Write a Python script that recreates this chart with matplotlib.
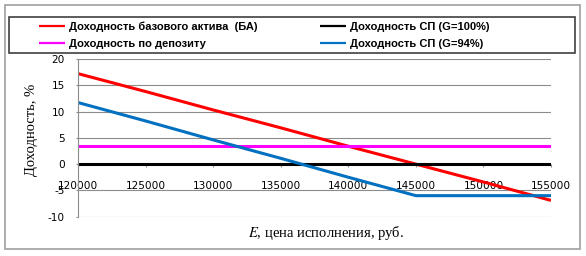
import matplotlib
matplotlib.use("Agg")
import matplotlib.pyplot as plt
from matplotlib.patches import Rectangle

# Цена исполнения E, руб.
strike = [120000, 125000, 130000, 135000, 140000, 145000, 150000, 155000]

# Доходности, %
ba_yield = [17.2, 13.8, 10.3, 6.9, 3.4, 0.0, -3.4, -6.9]
sp100_yield = [0, 0, 0, 0, 0, 0, 0, 0]
deposit_yield = [3.5, 3.5, 3.5, 3.5, 3.5, 3.5, 3.5, 3.5]
sp94_yield = [11.7, 8.2, 4.6, 1.1, -2.5, -6.0, -6.0, -6.0]

labels = ["Доходность базового актива  (БА)", "Доходность СП (G=100%)",
          "Доходность по депозиту", "Доходность СП (G=94%)"]
yticks = [-10, -5, 0, 5, 10, 15, 20]
xticks = [120000, 125000, 130000, 135000, 140000, 145000, 150000, 155000]

plt.rcParams["mathtext.fontset"] = "stix"
plt.rcParams["axes.unicode_minus"] = False

fig = plt.figure(figsize=(5.86, 2.56), dpi=100)
ax = fig.add_axes([78.3 / 586, 1 - 216.7 / 256, 472.7 / 586, 157.7 / 256])

grid_col = "#8c8c8c"

# линии
l_ba, = ax.plot(strike, ba_yield, color="#ff0000", lw=2.2, solid_capstyle="butt")
l_100, = ax.plot(strike, sp100_yield, color="#000000", lw=2.2, solid_capstyle="butt")
l_dep, = ax.plot(strike, deposit_yield, color="#ff00ff", lw=2.2, solid_capstyle="butt")
l_94, = ax.plot(strike, sp94_yield, color="#0070c0", lw=2.2, solid_capstyle="butt")

ax.set_xlim(120000, 155000)
ax.set_ylim(-10, 20)
ax.set_yticks(yticks)
ax.set_xticks(xticks)
ax.set_xticklabels([str(v) for v in xticks])

# сетка только горизонтальная
for v in yticks:
    ax.axhline(v, color=grid_col, lw=0.8, zorder=0)

# ось X пересекает Y в нуле
ax.spines["bottom"].set_position(("data", 0))
ax.spines["bottom"].set_visible(False)
ax.spines["top"].set_visible(False)
ax.spines["right"].set_visible(False)
ax.spines["left"].set_color(grid_col)
ax.spines["left"].set_linewidth(0.8)

ax.tick_params(axis="x", direction="out", length=2.5, width=0.8, color=grid_col,
               pad=9.5, labelsize=7.6)
ax.tick_params(axis="y", direction="out", length=1.5, width=0.8, color=grid_col,
               pad=8, labelsize=7.6)

ax.set_ylabel("Доходность, %", family="Liberation Serif", fontsize=10.5)
ax.yaxis.set_label_coords(-0.098, 0.553)
ax.set_xlabel(r"$E$, цена исполнения, руб.", family="Liberation Serif", fontsize=10.5)
ax.xaxis.set_label_coords(0.524, -0.103)
ax.xaxis.label.set_va("center")
ax.yaxis.label.set_va("center")

# легенда сверху (рамка отдельно)
leg = fig.legend([l_ba, l_dep, l_100, l_94], [labels[0], labels[2], labels[1], labels[3]],
                 ncol=2, loc="upper left",
                 bbox_to_anchor=(39 / 586, 1 - 21.5 / 256),
                 frameon=False,
                 prop={"family": "Liberation Sans", "weight": "bold", "size": 8.0},
                 handlelength=2.34, handletextpad=0.36, borderpad=0,
                 labelspacing=0.62, columnspacing=5.6, borderaxespad=0)
for h in leg.get_lines():
    h.set_linewidth(1.6)

fig.patches.append(Rectangle((8.5 / 586, 1 - 52.7 / 256), 566.5 / 586, 36 / 256,
                             transform=fig.transFigure, fill=False,
                             edgecolor="#404040", lw=1.2))

# рамка диаграммы
fig.patches.append(Rectangle((4.5 / 586, 1 - 249 / 256), 575.5 / 586, 244.5 / 256,
                             transform=fig.transFigure, fill=False,
                             edgecolor="#a6a6a6", lw=1.3))

fig.savefig("out.png", dpi=100)
